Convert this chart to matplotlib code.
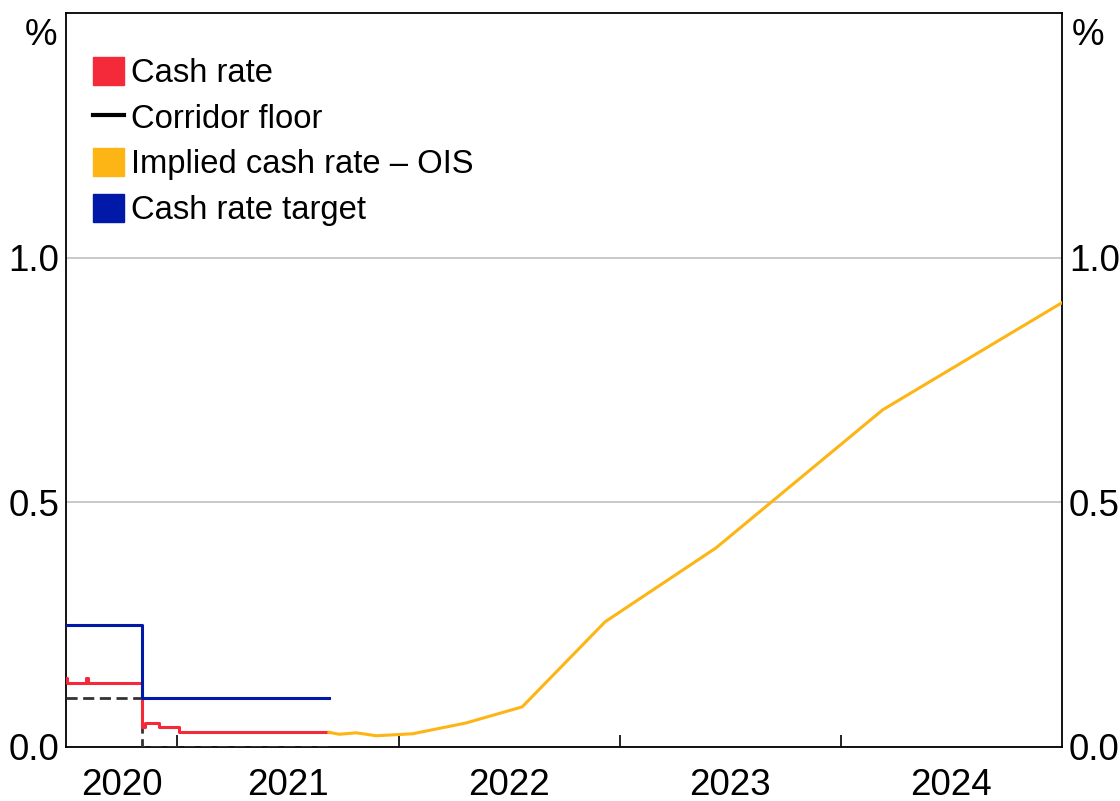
import numpy as np
import matplotlib
matplotlib.use('Agg')
import matplotlib.pyplot as plt
import matplotlib.dates as mdates
import matplotlib.patches as mpatches
from matplotlib.lines import Line2D
import datetime as dt

plt.rcParams['font.family'] = ['Liberation Sans', 'DejaVu Sans']

# cash rate (step series)
cash_dates = ['2020-07-01', '2020-07-03', '2020-08-03', '2020-08-07', '2020-11-04',
              '2020-11-09', '2020-12-01', '2021-01-04', '2021-09-08']
cash_vals = [0.14, 0.13, 0.14, 0.13, 0.04, 0.05, 0.04, 0.03, 0.03]

# corridor floor
floor_dates = ['2020-07-01', '2020-11-04', '2021-09-08']
floor_vals = [0.10, 0.00, 0.00]

# cash rate target
target_dates = ['2020-07-01', '2020-11-04', '2021-09-08']
target_vals = [0.25, 0.10, 0.10]

# implied cash rate from OIS
ois_dates = ['2021-09-08', '2021-09-25', '2021-10-23', '2021-11-25', '2022-01-24',
             '2022-04-22', '2022-07-24', '2022-12-08', '2023-06-09', '2024-03-10',
             '2024-12-31']
ois_vals = [0.030, 0.026, 0.029, 0.023, 0.027, 0.049, 0.082, 0.256, 0.407, 0.689, 0.908]

years = [2020, 2021, 2022, 2023, 2024]
yticks = [0.0, 0.5, 1.0]

col_cash = '#F42A3A'
col_floor = '#333333'
col_ois = '#FDB515'
col_target = '#0019A8'


def to_dt(lst):
    return [dt.datetime.strptime(d, '%Y-%m-%d') for d in lst]


fig = plt.figure(figsize=(11.2, 8.01), dpi=100)
ax = fig.add_axes([66 / 1120, 54 / 801, (1062 - 66) / 1120, (747 - 13) / 801])

ax.plot(to_dt(floor_dates), floor_vals, color=col_floor, lw=2, dashes=(4, 2),
        drawstyle='steps-post', zorder=3)
ax.plot(to_dt(cash_dates), cash_vals, color=col_cash, lw=2.2, drawstyle='steps-post', zorder=4)
ax.plot(to_dt(ois_dates), ois_vals, color=col_ois, lw=2.2, zorder=4)
ax.plot(to_dt(target_dates), target_vals, color=col_target, lw=2.2, drawstyle='steps-post', zorder=5)

xmin = dt.datetime(2020, 7, 1)
xmax = dt.datetime(2024, 12, 31)
ax.set_xlim(xmin, xmax)
ax.set_ylim(0, 1.5)

# year boundary ticks, labels centred in each year span
ax.set_xticks([dt.datetime(y, 1, 1) for y in years[1:]])
ax.set_xticklabels([])
ax.tick_params(axis='x', which='major', direction='in', length=9, width=1.2, color='black')
label_pos = []
for y in years:
    a = max(dt.datetime(y, 1, 1), xmin)
    b = min(dt.datetime(y + 1, 1, 1), xmax)
    label_pos.append(a + (b - a) / 2)
ax.set_xticks(label_pos, minor=True)
ax.set_xticklabels([str(y) for y in years], minor=True)
ax.tick_params(axis='x', which='minor', length=0, labelsize=26.5, pad=15)

ax.set_yticks(yticks)
ax.set_yticklabels(['%.1f' % v for v in yticks])
ax.tick_params(axis='y', length=0, labelsize=26.5, labelright=True, pad=5)
ax.grid(axis='y', color='#BBBBBB', lw=1.1)
ax.set_axisbelow(True)

for s in ax.spines.values():
    s.set_linewidth(1.3)
    s.set_color('black')

ax.text(-0.009, 0.993, '%', transform=ax.transAxes, ha='right', va='top', fontsize=26.5)
ax.text(1.010, 0.993, '%', transform=ax.transAxes, ha='left', va='top', fontsize=26.5)

handls = [mpatches.Patch(color=col_cash, label='Cash rate'),
          Line2D([0], [0], color='black', lw=3, label='Corridor floor'),
          mpatches.Patch(color=col_ois, label='Implied cash rate \u2013 OIS'),
          mpatches.Patch(color=col_target, label='Cash rate target')]
ax.legend(handles=handls, loc='upper left', bbox_to_anchor=(0.027, 0.94), frameon=False,
          fontsize=23.6, handlelength=0.95, handleheight=0.95, handletextpad=0.2,
          labelspacing=0.40, borderpad=0, borderaxespad=0)

plt.savefig('out.png', dpi=100)
